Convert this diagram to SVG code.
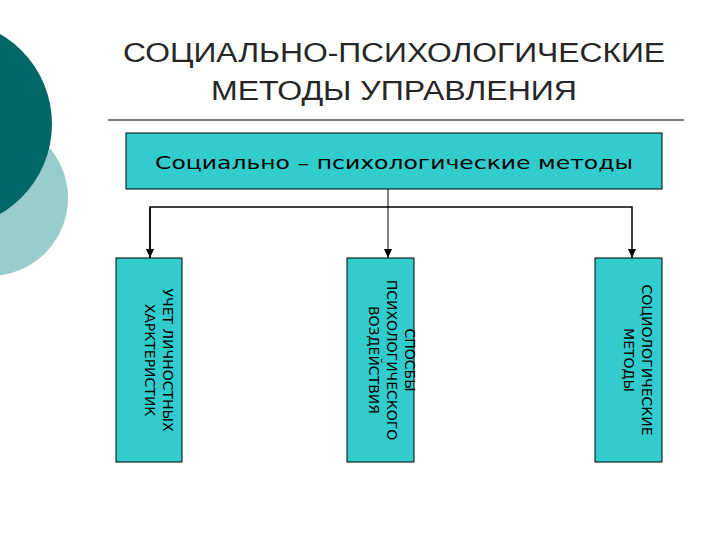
<svg xmlns="http://www.w3.org/2000/svg" width="720" height="540" viewBox="0 0 720 540">
<style>
.b{fill:#33CCCC;stroke:#000;stroke-width:1}
.t{font-family:"DejaVu Sans","Liberation Sans",sans-serif;fill:#000}
.v{font-size:14px;text-anchor:middle}
.c{stroke:#000;fill:none}
</style>
<defs><marker id="m" markerWidth="10" markerHeight="10" refX="9" refY="5" orient="auto" markerUnits="userSpaceOnUse"><path d="M0,1 L9,5 L0,9 Z" fill="#000"/></marker></defs>
<rect width="720" height="540" fill="#fff"/>
<circle cx="-10" cy="198" r="78" fill="#99CCCC"/>
<circle cx="-52" cy="124" r="104" fill="#006666"/>
<text x="394" y="62" font-size="27" text-anchor="middle" fill="#262626" font-family="Liberation Sans,Arial,sans-serif" textLength="542" lengthAdjust="spacingAndGlyphs">СОЦИАЛЬНО-ПСИХОЛОГИЧЕСКИЕ</text>
<text x="394" y="100" font-size="27" text-anchor="middle" fill="#262626" font-family="Liberation Sans,Arial,sans-serif" textLength="366" lengthAdjust="spacingAndGlyphs">МЕТОДЫ УПРАВЛЕНИЯ</text>
<line x1="108" y1="120" x2="684" y2="120" stroke="#000" stroke-width="1"/>
<g id="top"><rect class="b" x="126" y="133" width="536" height="56"/>
<text class="t" x="394" y="169" font-size="18" text-anchor="middle" textLength="478" lengthAdjust="spacingAndGlyphs">Социально – психологические методы</text></g>
<g id="connectors">
<polyline class="c" stroke-width="1.5" points="150,258 150,207 632,207 632,258" marker-end="url(#m)"/>
<path class="c" stroke-width="1.5" d="M150,207 L150,258" marker-end="url(#m)"/>
<path class="c" stroke-width="1" d="M388,189 L388,258" marker-end="url(#m)"/>
</g>
<g id="n1"><rect class="b" x="116" y="258" width="66" height="204"/>
<text class="t v" transform="translate(149,360) rotate(90)"><tspan x="0" y="-14">УЧЕТ ЛИЧНОСТНЫХ</tspan><tspan x="0" y="4">ХАРКТЕРИСТИК</tspan></text></g>
<g id="n2"><rect class="b" x="347" y="258" width="67" height="204"/>
<text class="t v" transform="translate(380,360) rotate(90)"><tspan x="0" y="-25">СПОСБЫ</tspan><tspan x="0" y="-7">ПСИХОЛОГИЧЕСКОГО</tspan><tspan x="0" y="11">ВОЗДЕЙСТВИЯ</tspan></text></g>
<g id="n3"><rect class="b" x="595" y="258" width="67" height="204"/>
<text class="t v" transform="translate(628,360) rotate(90)"><tspan x="0" y="-14">СОЦИОЛОГИЧЕСКИЕ</tspan><tspan x="0" y="4">МЕТОДЫ</tspan></text></g>
</svg>
